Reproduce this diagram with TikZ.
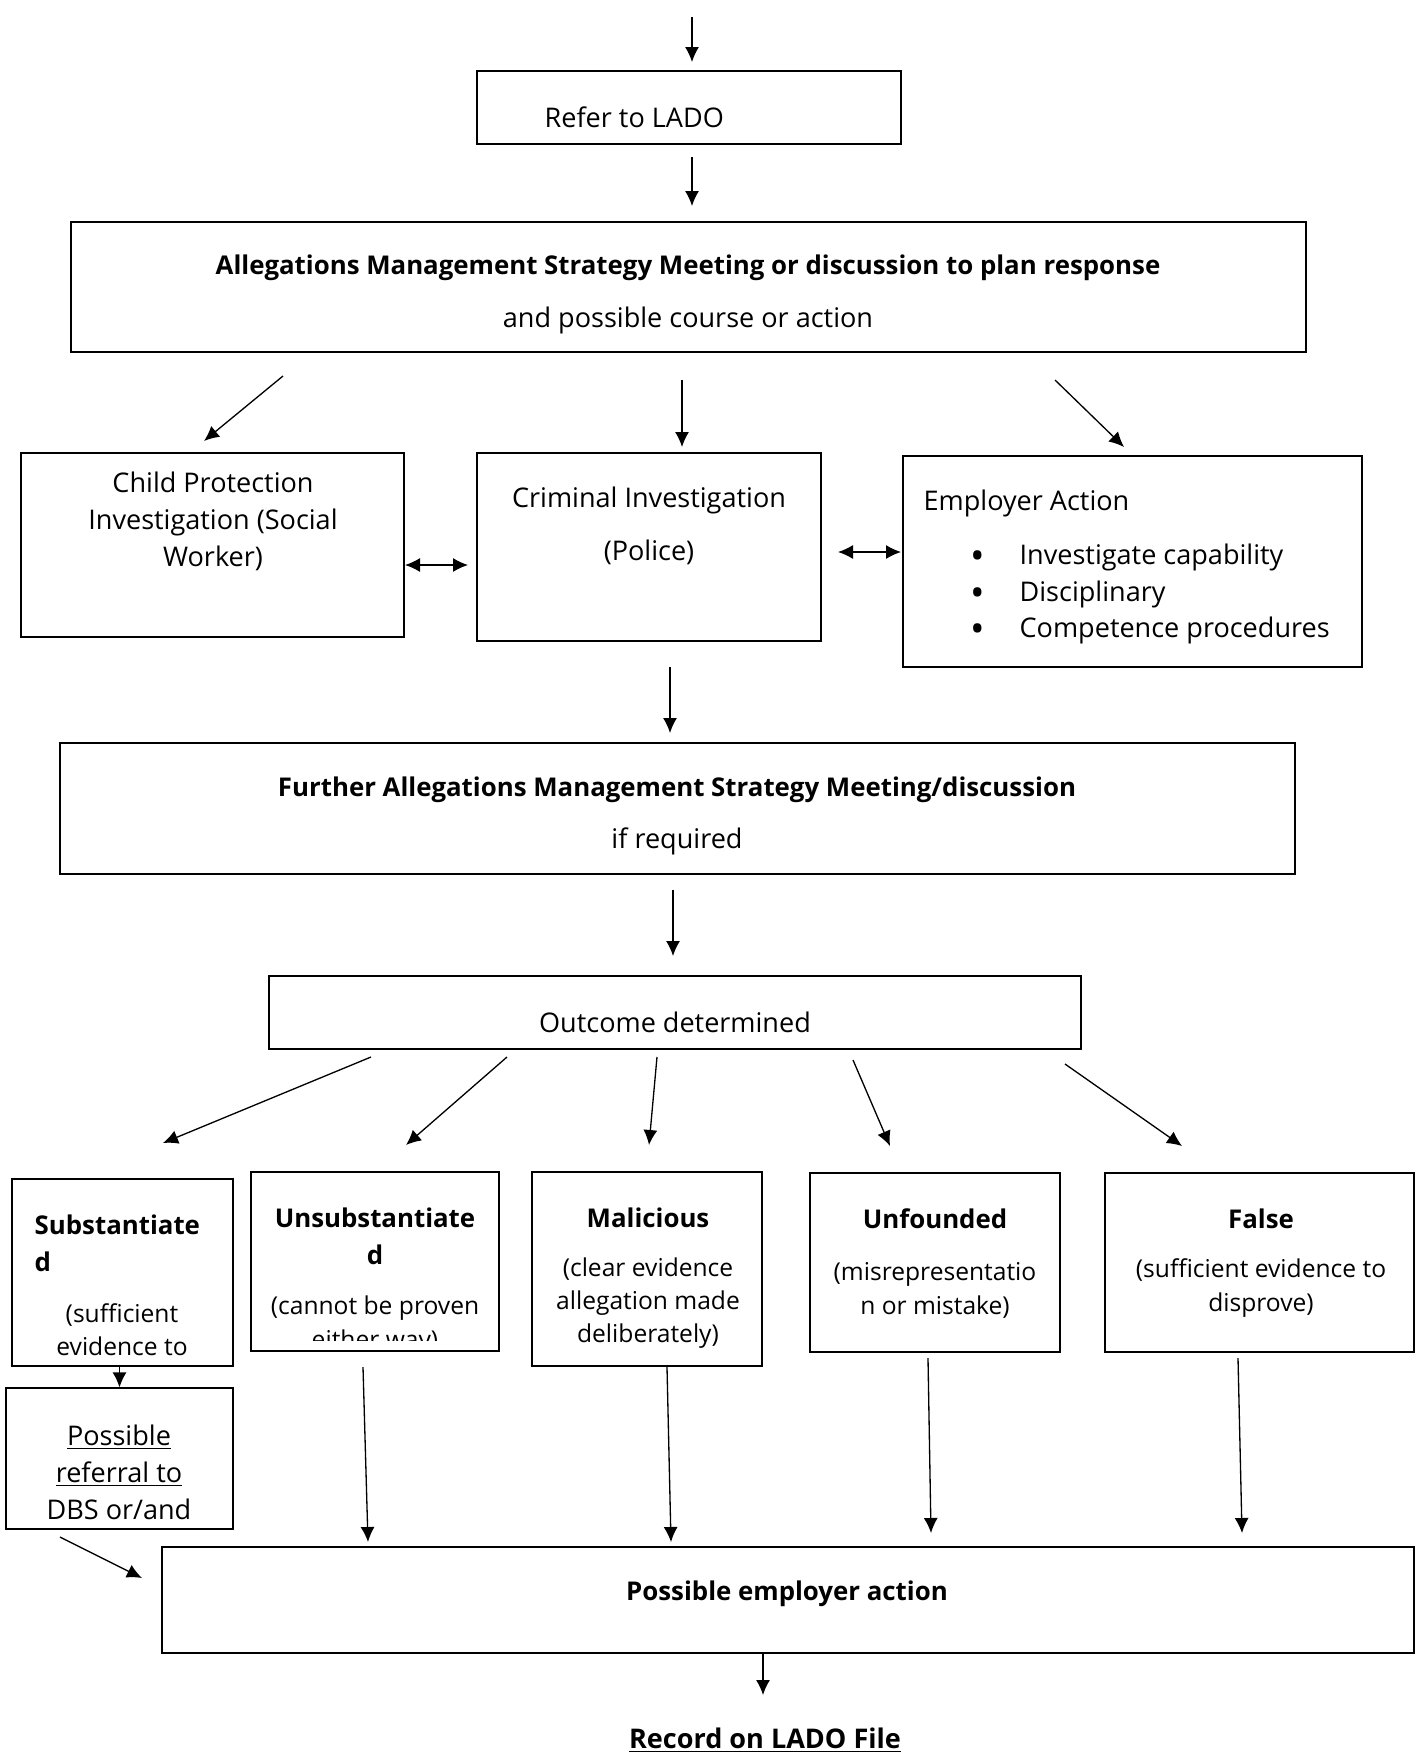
\documentclass[tikz,border=0pt]{standalone}
\usepackage{fontspec}
\setmainfont{Open Sans}
\usetikzlibrary{arrows.meta}

\tikzset{
  box/.style={draw, line width=0.75pt, inner sep=0pt},
  txt/.style={font=\fontsize{15.4}{21}\selectfont, align=center, inner sep=0pt},
  wide/.style={font=\fontsize{15.4}{30}\selectfont, align=center, inner sep=0pt},
  head/.style={font=\bfseries\fontsize{14.7}{21}\selectfont, align=center, inner sep=0pt},
  small/.style={font=\fontsize{14}{19}\selectfont, align=center, inner sep=0pt},
  >={Latex[length=3mm,width=2.8mm]}
}

\newcommand{\bul}{\makebox[0.98cm][l]{\raisebox{-0.35ex}{\fontsize{22}{0}\selectfont\textbullet}}}

\begin{document}
\begin{tikzpicture}[x=0.02cm, y=-0.02cm, line width=0.75pt]

            \useasboundingbox (0,0) rectangle (1415,1764);

            % boxes
            \path   (689,107.5) node (refer) [box,minimum width=8.48cm,minimum height=1.46cm] {}
                    (688.5,287) node (amsm) [box,minimum width=24.7cm,minimum height=2.6cm] {}
                    (212.5,545) node (cp) [box,minimum width=7.66cm,minimum height=3.68cm] {}
                    (649,547) node (crim) [box,minimum width=6.88cm,minimum height=3.76cm] {}
                    (1132.5,561.5) node (emp) [box,minimum width=9.18cm,minimum height=4.22cm] {}
                    (677.5,808.5) node (further) [box,minimum width=24.7cm,minimum height=2.62cm] {}
                    (675,1012.5) node (outc) [box,minimum width=16.24cm,minimum height=1.46cm] {}
                    (122.5,1272.5) node (subst) [box,minimum width=4.42cm,minimum height=3.74cm] {}
                    (375,1261.5) node (unsub) [box,minimum width=4.96cm,minimum height=3.58cm] {}
                    (647,1269) node (mal) [box,minimum width=4.6cm,minimum height=3.88cm] {}
                    (935,1262.5) node (unf) [box,minimum width=5.0cm,minimum height=3.58cm] {}
                    (1259.5,1262.5) node (false) [box,minimum width=6.18cm,minimum height=3.58cm] {}
                    (119.5,1458.5) node (dbs) [box,minimum width=4.54cm,minimum height=2.82cm] {}
                    (788,1600) node (empact) [box,minimum width=25.04cm,minimum height=2.12cm] {};

            % texts
            \node (refertxt) [txt,anchor=west] at (544,117) {Refer to LADO};
            \node (amsmtxt) [wide] at (688,294.5) {\textbf{\fontsize{14.7}{30}\selectfont Allegations Management Strategy Meeting or discussion to plan response}\\and possible course or action};
            \node (cptxt) [txt] at (213,521) {Child Protection\\Investigation (Social\\Worker)};
            \node (crimtxt) [wide] at (649,526) {Criminal Investigation\\(Police)};
            \node (emptxt) [txt,anchor=west] at (923,503) {Employer Action};
            \node (emplist) [txt,align=left,anchor=west] at (970,594) {\bul Investigate capability\\\bul Disciplinary\\\bul Competence procedures};
            \node (furthertxt) [wide] at (677,816) {\textbf{\fontsize{14.7}{30}\selectfont Further Allegations Management Strategy Meeting/discussion}\\if required};
            \node (outctxt) [txt] at (675,1022) {Outcome determined};

            \node (substhd) [head,align=left,anchor=west] at (34,1243.5) {Substantiate\\d};
            \node (substtxt) [small] at (122,1330) {(sufficient\\evidence to};
            \node (unsubhd) [head] at (375,1236.5) {Unsubstantiate\\d};
            \begin{scope}
                \clip (252,1173) rectangle (498,1340);
                \node (unsubtxt) [small] at (375,1325) {(cannot be proven\\either way)};
            \end{scope}
            \node (malhd) [head] at (648,1218) {Malicious};
            \node (maltxt) [small] at (648,1303) {(clear evidence\\allegation made\\deliberately)};
            \node (unfhd) [head] at (935,1219) {Unfounded};
            \node (unftxt) [small] at (935,1290.5) {(misrepresentatio\\n or mistake)};
            \node (falsehd) [head] at (1261,1219) {False};
            \node (falsetxt) [small] at (1261,1288) {(sufficient evidence to\\disprove)};
            \node (dbstxt) [txt] at (119,1472) {\underline{Possible}\\\underline{referral to}\\DBS or/and};
            \node (empacttxt) [head] at (787,1594) {Possible employer action};
            \node (record) [head,font=\bfseries\fontsize{15.4}{21}\selectfont] at (765,1740) {\underline{Record on LADO File}};

            % arrow ends
            \path   (692,17) coordinate (t0)   (692,62) coordinate (t1)
                    (692,157) coordinate (r0)  (692,206) coordinate (r1)
                    (283,376) coordinate (s0)  (204,441) coordinate (s1)
                    (682,380) coordinate (s2)  (682,447) coordinate (s3)
                    (1055,380) coordinate (s4) (1124,447) coordinate (s5)
                    (405,565) coordinate (p0)  (468,565) coordinate (p1)
                    (838,552) coordinate (p2)  (901,552) coordinate (p3)
                    (670,667) coordinate (f0)  (670,733) coordinate (f1)
                    (673,890) coordinate (g0)  (673,956) coordinate (g1)
                    (371,1057) coordinate (o0) (163,1143) coordinate (o1)
                    (507,1057) coordinate (o2) (406,1145) coordinate (o3)
                    (657,1057) coordinate (o4) (649,1145) coordinate (o5)
                    (853,1060) coordinate (o6) (890,1146) coordinate (o7)
                    (1065,1064) coordinate (o8) (1182,1146) coordinate (o9)
                    (363,1367) coordinate (b0) (368,1542) coordinate (b1)
                    (667,1367) coordinate (b2) (671,1542) coordinate (b3)
                    (928,1358) coordinate (b4) (931,1533) coordinate (b5)
                    (1238,1358) coordinate (b6) (1242,1533) coordinate (b7)
                    (60,1537) coordinate (b8)  (142,1578) coordinate (b9)
                    (763,1695) coordinate (e1);

            \draw[->] (node cs: name =t0) -- (node cs:name =t1);
            \draw[->] (node cs: name =r0) -- (node cs:name =r1);
            \draw[->] (node cs: name =s0) -- (node cs:name =s1);
            \draw[->] (node cs: name =s2) -- (node cs:name =s3);
            \draw[->] (node cs: name =s4) -- (node cs:name =s5);
            \draw[<->] (node cs: name =p0) -- (node cs:name =p1);
            \draw[<->] (node cs: name =p2) -- (node cs:name =p3);
            \draw[->] (node cs: name =f0) -- (node cs:name =f1);
            \draw[->] (node cs: name =g0) -- (node cs:name =g1);
            \draw[->] (node cs: name =o0) -- (node cs:name =o1);
            \draw[->] (node cs: name =o2) -- (node cs:name =o3);
            \draw[->] (node cs: name =o4) -- (node cs:name =o5);
            \draw[->] (node cs: name =o6) -- (node cs:name =o7);
            \draw[->] (node cs: name =o8) -- (node cs:name =o9);
            \draw[->] (subst.south -| dbs.north) -- (dbs.north);
            \draw[->] (node cs: name =b0) -- (node cs:name =b1);
            \draw[->] (node cs: name =b2) -- (node cs:name =b3);
            \draw[->] (node cs: name =b4) -- (node cs:name =b5);
            \draw[->] (node cs: name =b6) -- (node cs:name =b7);
            \draw[->] (node cs: name =b8) -- (node cs:name =b9);
            \draw[->] (empact.south -| e1) -- (node cs:name =e1);

        \end{tikzpicture}
\end{document}
